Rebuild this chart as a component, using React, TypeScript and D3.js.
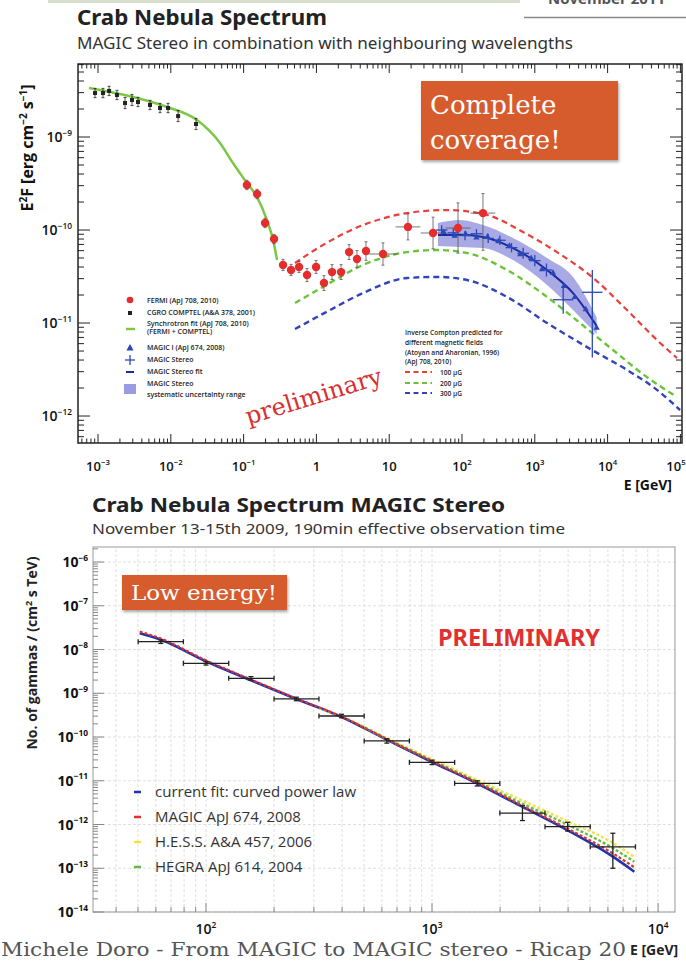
import React from 'react';
import * as d3 from 'd3';

// ---------------- TOP CHART DATA (E in GeV, E^2F in erg cm^-2 s^-1) ----------------
const comptelE = [9.1e-4, 1.17e-3, 1.42e-3, 1.82e-3, 2.35e-3, 2.93e-3, 3.54e-3, 5.18e-3, 7.11e-3, 9.16e-3, 1.26e-2, 2.22e-2];
const comptelF = [2.97e-9, 2.97e-9, 3.13e-9, 2.83e-9, 2.32e-9, 2.5e-9, 2.38e-9, 2.21e-9, 2.05e-9, 2.05e-9, 1.68e-9, 1.38e-9];
const comptelErr = [0.05, 0.05, 0.05, 0.05, 0.06, 0.06, 0.05, 0.05, 0.05, 0.05, 0.06, 0.06];

const synchE = [7.5e-4, 1.46e-3, 3.03e-3, 8.87e-3, 2.29e-2, 4.74e-2, 7.14e-2, 0.111, 0.153, 0.209, 0.254, 0.288];
const synchF = [3.37e-9, 3.05e-9, 2.69e-9, 2.1e-9, 1.52e-9, 8.61e-10, 5.25e-10, 3.2e-10, 2.26e-10, 1.28e-10, 7.8e-11, 4.75e-11];

const fermiE = [0.111, 0.153, 0.197, 0.262, 0.348, 0.448, 0.577, 0.743, 0.989, 1.27, 1.64, 2.18, 2.81, 3.61, 4.8, 8.22, 18.1, 40.0, 88.1, 194];
const fermiF = [3.05e-10, 2.44e-10, 1.19e-10, 8.0e-11, 4.21e-11, 3.72e-11, 4.0e-11, 3.28e-11, 4.0e-11, 2.69e-11, 3.53e-11, 3.53e-11, 5.79e-11, 4.88e-11, 5.94e-11, 5.52e-11, 1.08e-10, 9.29e-11, 1.05e-10, 1.52e-10];
const fermiErrUp = [0.05, 0.05, 0.05, 0.05, 0.06, 0.06, 0.06, 0.07, 0.07, 0.08, 0.08, 0.08, 0.08, 0.09, 0.1, 0.12, 0.14, 0.17, 0.27, 0.21];
const fermiErrDn = [0.05, 0.05, 0.05, 0.05, 0.06, 0.06, 0.06, 0.07, 0.07, 0.08, 0.08, 0.08, 0.08, 0.09, 0.1, 0.12, 0.14, 0.17, 0.27, 0.4];
const fermiXErr = [0, 0, 0, 0, 0, 0, 0, 0, 0, 0, 0, 0, 0, 0, 0, 0.2, 0.17, 0.17, 0.17, 0.17];

const icRedE = [0.508, 1.23, 4.37, 17.6, 62.2, 221, 689, 2018, 6109, 18450, 47750, 89750];
const icRedF = [4.42e-11, 6.9e-11, 1.13e-10, 1.52e-10, 1.64e-10, 1.45e-10, 9.51e-11, 5.79e-11, 3.13e-11, 1.38e-11, 6.56e-12, 4.21e-12];
const icGreenE = [0.508, 1.23, 4.37, 17.6, 45.4, 117, 415, 1472, 4178, 11860, 34750, 89750];
const icGreenF = [1.64e-11, 2.44e-11, 4.21e-11, 5.79e-11, 6.1e-11, 5.66e-11, 3.72e-11, 1.91e-11, 1.0e-11, 5.13e-12, 2.62e-12, 1.6e-12];
const icBlueE = [0.508, 1.54, 4.37, 17.6, 45.4, 117, 415, 1472, 6109, 18450, 47750, 98860];
const icBlueF = [8.61e-12, 1.38e-11, 2.1e-11, 3.05e-11, 3.13e-11, 2.9e-11, 1.91e-11, 1.0e-11, 5.13e-12, 3.13e-12, 1.91e-12, 1.16e-12];

const bandE = [46.8, 94.0, 194, 502, 1472, 3350, 7079];
const bandHi = [1.19e-10, 1.28e-10, 1.13e-10, 8.2e-11, 5.0e-11, 3.13e-11, 1.15e-11];
const bandLo = [6.73e-11, 6.56e-11, 6.4e-11, 4.75e-11, 2.56e-11, 1.38e-11, 7.59e-12];
const stereoFitF = [8.83e-11, 8.91e-11, 8.41e-11, 6.4e-11, 3.72e-11, 2.1e-11, 9.33e-12];

const magic1E = [56.2, 79.4, 112, 158, 224, 316, 447, 631, 891, 1259, 1778, 2512, 3548, 5012, 7079];
const magic1F = [9.55e-11, 8.71e-11, 9.12e-11, 8.32e-11, 8.51e-11, 7.59e-11, 6.76e-11, 5.5e-11, 5.01e-11, 3.8e-11, 3.47e-11, 2.51e-11, 1.91e-11, 1.41e-11, 8.91e-12];

const stereoE = [52.5, 75.9, 110, 158, 229, 331, 479, 692, 1000, 1445, 2455, 6166];
const stereoF = [1.0e-10, 9.33e-11, 8.71e-11, 9.12e-11, 8.13e-11, 7.76e-11, 6.46e-11, 5.62e-11, 4.68e-11, 3.72e-11, 1.78e-11, 2.14e-11];
const stereoXErr = [0.08, 0.08, 0.08, 0.08, 0.08, 0.08, 0.08, 0.08, 0.08, 0.08, 0.14, 0.14];
const stereoErrUp = [0.05, 0.05, 0.05, 0.05, 0.05, 0.05, 0.05, 0.06, 0.06, 0.07, 0.15, 0.24];
const stereoErrDn = [0.05, 0.05, 0.05, 0.05, 0.05, 0.05, 0.05, 0.06, 0.06, 0.07, 0.15, 0.7];

const topXTickLabels = ['10^-3', '10^-2', '10^-1', '1', '10', '10^2', '10^3', '10^4', '10^5'];
const topYTickLabels = ['10^-9', '10^-10', '10^-11', '10^-12'];

// ---------------- BOTTOM CHART DATA (E in GeV, dN/dE in cm^-2 s^-1 TeV^-1) ----------------
const stereoBinE = [63.1, 100, 158, 251, 398, 631, 1000, 1585, 2512, 3981, 6310];
const stereoBinLo = [50.1, 79.4, 126, 200, 316, 501, 794, 1259, 1995, 3162, 5012];
const stereoBinHi = [79.4, 126, 200, 316, 501, 794, 1259, 1995, 3162, 5012, 7943];
const stereoFlux = [1.51e-8, 4.84e-9, 2.19e-9, 7.41e-10, 3.02e-10, 8.13e-11, 2.63e-11, 8.71e-12, 1.82e-12, 8.91e-13, 3.09e-13];
const stereoFluxErrUp = [0.04, 0.04, 0.04, 0.04, 0.04, 0.05, 0.05, 0.06, 0.17, 0.1, 0.31];
const stereoFluxErrDn = [0.04, 0.04, 0.04, 0.04, 0.04, 0.05, 0.05, 0.06, 0.17, 0.1, 0.49];

const fitE = [50.9, 62.4, 99.3, 157, 251, 396, 627, 995, 1578, 2506, 3963, 6310, 7852];
const fitCurrent = [2.34e-8, 1.71e-8, 5.46e-9, 2.01e-9, 7.4e-10, 2.91e-10, 8.85e-11, 2.72e-11, 8.75e-12, 2.55e-12, 7.48e-13, 1.84e-13, 8.34e-14];
const fitMagic2008 = [2.57e-8, 1.82e-8, 5.75e-9, 2.09e-9, 7.59e-10, 2.95e-10, 9.12e-11, 2.82e-11, 9.12e-12, 2.69e-12, 8.13e-13, 2.19e-13, 1.05e-13];
const hessE = [316, 396, 627, 995, 1578, 2506, 3963, 6310, 7852];
const fitHess = [4.57e-10, 3.02e-10, 9.55e-11, 3.16e-11, 1.05e-11, 3.55e-12, 1.2e-12, 3.8e-13, 1.82e-13];
const hegraE = [501, 627, 995, 1578, 2506, 3963, 6310, 7852];
const fitHegra = [1.66e-10, 9.12e-11, 2.95e-11, 9.55e-12, 3.02e-12, 1.0e-12, 2.88e-13, 1.41e-13];

const botXTickLabels = ['10^2', '10^3', '10^4'];
const botYTickLabels = ['10^-6', '10^-7', '10^-8', '10^-9', '10^-10', '10^-11', '10^-12', '10^-13', '10^-14'];
const botLegend = ['current fit: curved power law', 'MAGIC ApJ 674, 2008', 'H.E.S.S. A&A 457, 2006', 'HEGRA ApJ 614, 2004'];
const botLegendColors = ['#2233aa', '#e03030', '#f2e24a', '#66bb44'];

// ---------------- SCALES ----------------
const xT = d3.scaleLog().domain([10 ** -3.275, 10 ** 5.022]).range([78, 682]);
const yT = d3.scaleLog().domain([10 ** -12.29, 10 ** -8.215]).range([443, 64]);
const xB = d3.scaleLog().domain([10 ** 1.5, 10 ** 4.075]).range([93, 675]);
const yB = d3.scaleLog().domain([1e-14, 10 ** -5.657]).range([912, 547]);

function logTicks(dom: number[]) {
  const [a, b] = dom;
  const res: { v: number; major: boolean }[] = [];
  for (let d = Math.floor(Math.log10(a)); d <= Math.ceil(Math.log10(b)); d++) {
    for (let k = 1; k < 10; k++) {
      const v = k * Math.pow(10, d);
      if (v >= a * 0.9999 && v <= b * 1.0001) res.push({ v, major: k === 1 });
    }
  }
  return res;
}

function PowText(props: any) {
  const { label, x, y, size, anchor, weight, fill, supSize, dy } = props;
  const parts = label.split('^');
  return (
    <text x={x} y={y} fontSize={size} textAnchor={anchor || 'middle'} fontWeight={weight || 'normal'} fill={fill || '#111'}>
      {parts[0]}
      {parts.length > 1 && (
        <tspan dy={dy || -size * 0.45} fontSize={supSize || size * 0.6}>
          {parts[1].replace('-', '−')}
        </tspan>
      )}
    </text>
  );
}

const SERIF = "'DejaVu Serif', serif";
const SANS_NARROW = "'Liberation Sans Narrow', 'Noto Sans', sans-serif";

export default function App() {
  const ptsT = (E: number[], F: number[]) => E.map((e, i) => [xT(e), yT(F[i])] as [number, number]);
  const ptsB = (E: number[], F: number[]) => E.map((e, i) => [xB(e), yB(F[i])] as [number, number]);
  const smooth = d3.line<[number, number]>().x((d) => d[0]).y((d) => d[1]).curve(d3.curveMonotoneX);
  const bandArea = d3
    .area<number>()
    .x((_, i) => xT(bandE[i]))
    .y0((_, i) => yT(bandLo[i]))
    .y1((_, i) => yT(bandHi[i]))
    .curve(d3.curveMonotoneX);

  const tT = logTicks(xT.domain());
  const tTy = logTicks(yT.domain());
  const tB = logTicks(xB.domain());
  const tBy = logTicks(yB.domain());
  const [xl, xr] = xT.range();
  const [yb, yt] = yT.range();
  const [bxl, bxr] = xB.range();
  const [byb, byt] = yB.range();

  const topMajorX = tT.filter((t) => t.major);
  const topMajorY = tTy.filter((t) => t.major).sort((a, b) => b.v - a.v);
  const botMajorX = tB.filter((t) => t.major);
  const botMajorY = tBy.filter((t) => t.major).sort((a, b) => b.v - a.v);

  const tri = (cx: number, cy: number, s: number) => `M${cx},${cy - s} L${cx + s * 0.9},${cy + s * 0.6} L${cx - s * 0.9},${cy + s * 0.6} Z`;

  return (
    <svg width={686} height={961} style={{ position: 'absolute', left: 0, top: 0, background: '#fff' }} fontFamily="'Open Sans', 'Noto Sans', sans-serif">
      <defs>
        <clipPath id="clipTop">
          <rect x={xl} y={yt} width={xr - xl} height={yb - yt} />
        </clipPath>
        <clipPath id="clipBot">
          <rect x={bxl} y={byt} width={bxr - bxl} height={byb - byt} />
        </clipPath>
        <filter id="sh" x="-10%" y="-10%" width="130%" height="140%">
          <feDropShadow dx="1" dy="2" stdDeviation="1.5" floodColor="#000" floodOpacity="0.35" />
        </filter>
      </defs>

      {/* slide header */}
      <rect x={48} y={0} width={472} height={3} fill="#d9dfcf" />
      <text x={548} y={4} fontSize={15} fontWeight="bold" fill="#555">November 2011</text>
      <line x1={524} x2={686} y1={17.5} y2={17.5} stroke="#888" strokeWidth={1.5} />
      <text x={77} y={25} fontSize={22} fontWeight="bold" fill="#222" fontFamily={SANS_NARROW} textLength={250} lengthAdjust="spacingAndGlyphs">Crab Nebula Spectrum</text>
      <text x={77} y={49} fontSize={16} fill="#333" fontFamily={SANS_NARROW} textLength={496} lengthAdjust="spacingAndGlyphs">MAGIC Stereo in combination with neighbouring wavelengths</text>

      {/* ================= TOP CHART ================= */}
      <g clipPath="url(#clipTop)">
        <path d={bandArea(bandE.map((_, i) => i)) || ''} fill="#9a9be0" opacity={0.85} />
        <path d={smooth(ptsT(bandE, stereoFitF)) || ''} fill="none" stroke="#1c2c9c" strokeWidth={2} />
        <path d={smooth(ptsT(icRedE, icRedF)) || ''} fill="none" stroke="#e8403a" strokeWidth={2.2} strokeDasharray="6,4" />
        <path d={smooth(ptsT(icGreenE, icGreenF)) || ''} fill="none" stroke="#6ac43a" strokeWidth={2.4} strokeDasharray="6,4" />
        <path d={smooth(ptsT(icBlueE, icBlueF)) || ''} fill="none" stroke="#3344bb" strokeWidth={2.4} strokeDasharray="6,4" />
        <path d={smooth(ptsT(synchE, synchF)) || ''} fill="none" stroke="#7cc846" strokeWidth={2.5} />

        {comptelE.map((e, i) => {
          const cx = xT(e), cy = yT(comptelF[i]);
          const y1 = yT(comptelF[i] * 10 ** comptelErr[i]), y2 = yT(comptelF[i] / 10 ** comptelErr[i]);
          return (
            <g key={'c' + i} stroke="#222" strokeWidth={0.8}>
              <line x1={cx} x2={cx} y1={y1} y2={y2} />
              <line x1={cx - 1.5} x2={cx + 1.5} y1={y1} y2={y1} />
              <line x1={cx - 1.5} x2={cx + 1.5} y1={y2} y2={y2} />
              <rect x={cx - 2} y={cy - 2} width={4} height={4} fill="#222" stroke="none" />
            </g>
          );
        })}

        {magic1E.map((e, i) => (
          <path key={'m' + i} d={tri(xT(e), yT(magic1F[i]), 3.5)} fill="#2a48b8" />
        ))}

        {stereoE.map((e, i) => {
          const cx = xT(e), cy = yT(stereoF[i]);
          return (
            <g key={'s' + i} stroke="#2a48b8" strokeWidth={1.3}>
              <line x1={xT(e / 10 ** stereoXErr[i])} x2={xT(e * 10 ** stereoXErr[i])} y1={cy} y2={cy} />
              <line x1={cx} x2={cx} y1={yT(stereoF[i] * 10 ** stereoErrUp[i])} y2={yT(stereoF[i] / 10 ** stereoErrDn[i])} />
            </g>
          );
        })}

        {fermiE.map((e, i) => {
          const cx = xT(e), cy = yT(fermiF[i]);
          const y1 = yT(fermiF[i] * 10 ** fermiErrUp[i]), y2 = yT(fermiF[i] / 10 ** fermiErrDn[i]);
          return (
            <g key={'f' + i}>
              <g stroke="#555" strokeWidth={0.8}>
                <line x1={cx} x2={cx} y1={y1} y2={y2} />
                <line x1={cx - 1.5} x2={cx + 1.5} y1={y1} y2={y1} />
                <line x1={cx - 1.5} x2={cx + 1.5} y1={y2} y2={y2} />
                {fermiXErr[i] > 0 && <line x1={xT(e / 10 ** fermiXErr[i])} x2={xT(e * 10 ** fermiXErr[i])} y1={cy} y2={cy} />}
              </g>
              <circle cx={cx} cy={cy} r={4.2} fill="#e52d2d" />
            </g>
          );
        })}
      </g>

      {/* top frame & ticks */}
      <rect x={xl} y={yt} width={xr - xl} height={yb - yt} fill="none" stroke="#222" strokeWidth={1.5} />
      {tT.map((t, i) => {
        const x = xT(t.v);
        const L = t.major ? 9 : 4.5;
        return (
          <g key={'tx' + i} stroke="#222" strokeWidth={1}>
            <line x1={x} x2={x} y1={yb} y2={yb - L} />
            <line x1={x} x2={x} y1={yt} y2={yt + L} />
          </g>
        );
      })}
      {tTy.map((t, i) => {
        const y = yT(t.v);
        const L = t.major ? 12 : 6;
        return (
          <g key={'ty' + i} stroke="#222" strokeWidth={1}>
            <line x1={xl} x2={xl + L} y1={y} y2={y} />
            <line x1={xr} x2={xr - L} y1={y} y2={y} />
          </g>
        );
      })}
      {topMajorX.map((t, i) => (
        <PowText key={'txl' + i} label={topXTickLabels[i]} x={Math.min(xT(t.v), 676)} y={471} size={13} weight="600" />
      ))}
      {topMajorY.map((t, i) => (
        <PowText key={'tyl' + i} label={topYTickLabels[i]} x={72} y={yT(t.v) + 5} size={14} anchor="end" weight="600" />
      ))}
      <text x={672} y={490} fontSize={14} fontWeight="bold" textAnchor="end" fill="#111">E [GeV]</text>
      <text transform="translate(33,148) rotate(-90)" fontSize={16} fontWeight="bold" textAnchor="middle" fill="#111">
        E<tspan dy={-6} fontSize={10}>2</tspan><tspan dy={6}>F [erg cm</tspan><tspan dy={-6} fontSize={10}>−2</tspan><tspan dy={6}> s</tspan><tspan dy={-6} fontSize={10}>−1</tspan><tspan dy={6}>]</tspan>
      </text>

      {/* top legend left */}
      <g fontSize={7} fontWeight="600" fill="#222">
        <circle cx={130} cy={300} r={3.3} fill="#e52d2d" />
        <text x={147} y={302.5}>FERMI (ApJ 708, 2010)</text>
        <rect x={128} y={311} width={4} height={4} fill="#222" />
        <text x={147} y={315}>CGRO COMPTEL (A&amp;A 378, 2001)</text>
        <line x1={126} x2={135} y1={329} y2={329} stroke="#7cc846" strokeWidth={2.5} />
        <text x={147} y={326}>Synchrotron fit (ApJ 708, 2010)</text>
        <text x={147} y={334}>(FERMI + COMPTEL)</text>
        <path d={tri(130, 348, 4)} fill="#2a48b8" />
        <text x={147} y={350}>MAGIC I (ApJ 674, 2008)</text>
        <line x1={125} x2={135} y1={360} y2={360} stroke="#2a48b8" strokeWidth={1.3} />
        <line x1={130} x2={130} y1={355} y2={365} stroke="#2a48b8" strokeWidth={1.3} />
        <text x={147} y={362}>MAGIC Stereo</text>
        <line x1={126} x2={134} y1={372} y2={372} stroke="#1c2c9c" strokeWidth={2} />
        <text x={147} y={374}>MAGIC Stereo fit</text>
        <rect x={124} y={384} width={12} height={10} fill="#9a9be0" />
        <text x={147} y={386}>MAGIC Stereo</text>
        <text x={147} y={397}>systematic uncertainty range</text>
      </g>
      {/* top legend right */}
      <g fontSize={6.6} fontWeight="600" fill="#222">
        <text x={405} y={335}>Inverse Compton predicted for</text>
        <text x={405} y={345}>different magnetic fields</text>
        <text x={405} y={355}>(Atoyan and Aharonian, 1996)</text>
        <text x={405} y={364}>(ApJ 708, 2010)</text>
        <line x1={405} x2={432} y1={372} y2={372} stroke="#e8403a" strokeWidth={2} strokeDasharray="5,3.5" />
        <text x={440} y={374.5}>100 µG</text>
        <line x1={405} x2={432} y1={383} y2={383} stroke="#6ac43a" strokeWidth={2} strokeDasharray="5,3.5" />
        <text x={440} y={385.5}>200 µG</text>
        <line x1={405} x2={432} y1={393} y2={393} stroke="#3344bb" strokeWidth={2} strokeDasharray="5,3.5" />
        <text x={440} y={395.5}>300 µG</text>
      </g>
      <text transform="translate(316,404) rotate(-17)" fontSize={24} fontFamily={SERIF} fill="#d83030" textAnchor="middle">preliminary</text>

      {/* Complete coverage box */}
      <g filter="url(#sh)">
        <rect x={421} y={81} width={197} height={79} fill="#d65b2f" />
      </g>
      <text x={430} y={114} fontSize={26} fontFamily={SERIF} fill="#fff">Complete</text>
      <text x={430} y={149} fontSize={26} fontFamily={SERIF} fill="#fff">coverage!</text>

      {/* ================= BOTTOM CHART ================= */}
      <text x={92} y={512} fontSize={20} fontWeight="bold" fill="#222" fontFamily={SANS_NARROW} textLength={413} lengthAdjust="spacingAndGlyphs">Crab Nebula Spectrum MAGIC Stereo</text>
      <text x={92} y={534} fontSize={14.5} fill="#333" fontFamily={SANS_NARROW} textLength={473} lengthAdjust="spacingAndGlyphs">November 13-15th 2009, 190min effective observation time</text>

      <g stroke="#d8d8d8" strokeWidth={0.8} strokeDasharray="3,2">
        {tB.map((t, i) => (
          <line key={'gx' + i} x1={xB(t.v)} x2={xB(t.v)} y1={byb} y2={byt} />
        ))}
        {botMajorY.map((t, i) => (
          <line key={'gy' + i} x1={bxl} x2={bxr} y1={yB(t.v)} y2={yB(t.v)} />
        ))}
      </g>
      <rect x={bxl} y={byt} width={bxr - bxl} height={byb - byt} fill="none" stroke="#999" strokeWidth={1} />
      {tB.map((t, i) => (
        <line key={'bx' + i} x1={xB(t.v)} x2={xB(t.v)} y1={byb} y2={byb - (t.major ? 9 : 5)} stroke="#888" />
      ))}
      {tBy.map((t, i) => (
        <line key={'by' + i} x1={bxl} x2={bxl + (t.major ? 11 : 5)} y1={yB(t.v)} y2={yB(t.v)} stroke="#888" />
      ))}
      {botMajorX.map((t, i) => (
        <PowText key={'bxl' + i} label={botXTickLabels[i]} x={xB(t.v)} y={934} size={14} weight="600" />
      ))}
      {botMajorY.map((t, i) => (
        <PowText key={'byl' + i} label={botYTickLabels[i]} x={88} y={yB(t.v) + 5} size={14} anchor="end" weight="bold" />
      ))}
      <text transform="translate(37,653) rotate(-90)" fontSize={14} fontWeight="bold" textAnchor="middle" fill="#222">
        No. of gammas / (cm<tspan dy={-5} fontSize={9}>2</tspan><tspan dy={5}> s TeV)</tspan>
      </text>

      <g clipPath="url(#clipBot)" fill="none">
        <path d={smooth(ptsB(fitE, fitCurrent)) || ''} stroke="#2233aa" strokeWidth={2.6} />
        <path d={smooth(ptsB(hessE, fitHess)) || ''} stroke="#f2e24a" strokeWidth={2.4} strokeDasharray="3,2" />
        <path d={smooth(ptsB(hegraE, fitHegra)) || ''} stroke="#66bb44" strokeWidth={2.4} strokeDasharray="3,2" />
        <path d={smooth(ptsB(fitE, fitMagic2008)) || ''} stroke="#e03030" strokeWidth={2.2} strokeDasharray="3,2" />
      </g>
      {stereoBinE.map((e, i) => {
        const cx = xB(e), cy = yB(stereoFlux[i]);
        const x1 = xB(stereoBinLo[i]), x2 = xB(stereoBinHi[i]);
        const y1 = yB(stereoFlux[i] * 10 ** stereoFluxErrUp[i]), y2 = yB(stereoFlux[i] / 10 ** stereoFluxErrDn[i]);
        return (
          <g key={'bp' + i} stroke="#222" strokeWidth={1.3}>
            <line x1={x1} x2={x2} y1={cy} y2={cy} />
            <line x1={x1} x2={x1} y1={cy - 2.5} y2={cy + 2.5} />
            <line x1={x2} x2={x2} y1={cy - 2.5} y2={cy + 2.5} />
            <line x1={cx} x2={cx} y1={y1} y2={y2} />
            <line x1={cx - 2.5} x2={cx + 2.5} y1={y1} y2={y1} />
            <line x1={cx - 2.5} x2={cx + 2.5} y1={y2} y2={y2} />
          </g>
        );
      })}

      {botLegend.map((s, i) => (
        <g key={'bl' + i}>
          <line x1={134} x2={141} y1={792 + i * 25} y2={792 + i * 25} stroke={botLegendColors[i]} strokeWidth={2.5} />
          <text x={155} y={797 + i * 25} fontSize={15} fill="#333">{s}</text>
        </g>
      ))}
      <text x={438} y={646} fontSize={23} fontWeight="bold" fill="#e03030" fontFamily={SANS_NARROW} textLength={162} lengthAdjust="spacingAndGlyphs">PRELIMINARY</text>

      <g filter="url(#sh)">
        <rect x={122} y={575} width={165} height={35} fill="#d65b2f" />
      </g>
      <text x={131} y={600} fontSize={20} fontFamily={SERIF} fill="#fff" textLength={146} lengthAdjust="spacingAndGlyphs">Low energy!</text>

      {/* footer */}
      <text x={1} y={956} fontSize={19} fontFamily={SERIF} fill="#555" textLength={625} lengthAdjust="spacingAndGlyphs">Michele Doro - From MAGIC to MAGIC stereo - Ricap 20</text>
      <text x={630} y={955} fontSize={14} fontWeight="bold" fill="#222">E [GeV]</text>
    </svg>
  );
}
